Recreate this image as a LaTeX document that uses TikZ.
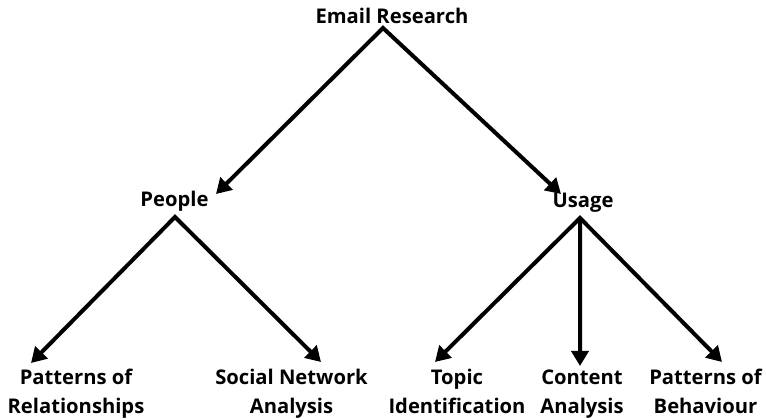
\documentclass[tikz,border=0pt]{standalone}
\usepackage{fontspec}
\setmainfont{Open Sans}
\usetikzlibrary{arrows.meta,positioning,calc}

\tikzset{
    label/.style={font=\fontsize{11.5}{16.5}\selectfont\bfseries, inner sep=0pt, anchor=base, align=center},
    tree arrow/.style={line width=0.08cm, line join=miter,
        {Triangle[length=0.3cm,width=0.34cm]}-{Triangle[length=0.3cm,width=0.34cm]}},
    down arrow/.style={line width=0.08cm, -{Triangle[length=0.3cm,width=0.34cm]}}
}

\begin{document}
\begin{tikzpicture}
        \useasboundingbox (0, 0) rectangle (15.32, 8.38);

        % Top level
        \node[label] (email) at (7.84, 7.9) {Email Research};

        % Second level
        \node[label] (people) at (3.49, 4.24) {People};
        \node[label] (usage) at (11.66, 4.22) {Usage};

        % Leaves (base is the last line)
        \node[label] (relations) at (1.52, 0.1) {Patterns of\\Relationships};
        \node[label] (sna) at (5.83, 0.1) {Social Network\\Analysis};
        \node[label] (topic) at (9.14, 0.1) {Topic\\Identification};
        \node[label] (content) at (11.64, 0.1) {Content\\Analysis};
        \node[label] (behaviour) at (14.11, 0.1) {Patterns of\\Behaviour};

        % Where the arrows leave and arrive
        \coordinate (E_OUT) at ($(email.base) + (-0.18, -0.08)$);
        \coordinate (P_IN) at ($(people.base) + (0.83, 0.26)$);
        \coordinate (P_OUT) at ($(people.base) + (0.01, -0.2)$);
        \coordinate (U_IN) at ($(usage.base) + (-0.44, 0.28)$);
        \coordinate (U_OUT) at ($(usage.base) + (-0.06, -0.2)$);

        % Draw the tree
        \draw[tree arrow] (P_IN) -- (E_OUT) -- (U_IN);
        \draw[tree arrow] ($(relations.base) + (-0.9, 1.02)$) -- (P_OUT) -- ($(sna.base) + (0.59, 1.04)$);
        \draw[tree arrow] ($(topic.base) + (-0.44, 1.04)$) -- (U_OUT) -- ($(behaviour.base) + (0.33, 1.04)$);
        \draw[down arrow] (U_OUT) -- ($(content.base) + (-0.04, 0.96)$);

    \end{tikzpicture}
\end{document}
